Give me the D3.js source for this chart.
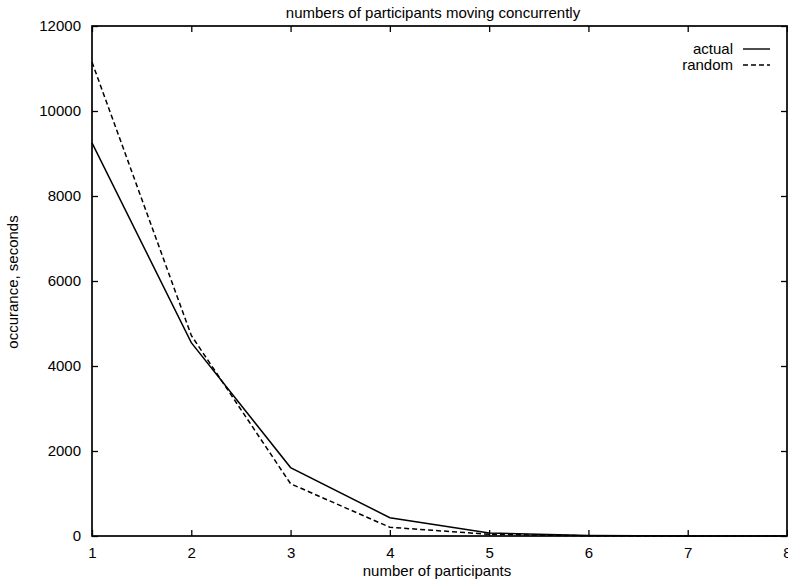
<!DOCTYPE html>
<html>
<head>
<meta charset="utf-8">
<script src="https://cdn.jsdelivr.net/npm/d3@7"></script>
<style>
body { margin: 0; background: #fff; }
text { font-family: "Liberation Sans", Arial, sans-serif; font-size: 15px; fill: #000; }
</style>
</head>
<body>
<script>
var participants = [1, 2, 3, 4, 5, 6, 7, 8];
var actual = [9250, 4550, 1610, 430, 70, 10, 0, 0];
var random = [11150, 4720, 1230, 205, 40, 5, 0, 0];
var yTicks = [0, 2000, 4000, 6000, 8000, 10000, 12000];
var seriesNames = ['actual', 'random'];

var W = 788, H = 579;
var pl = 92, pr = 787, pt = 26, pb = 536;

var svg = d3.select('body').append('svg')
	.attr('width', W)
	.attr('height', H);

var x = d3.scaleLinear().domain([1, 8]).range([pl, pr]);
var y = d3.scaleLinear().domain([0, 12000]).range([pb, pt]);

// frame
svg.append('rect')
	.attr('x', pl).attr('y', pt)
	.attr('width', pr - pl).attr('height', pb - pt)
	.attr('fill', 'none').attr('stroke', '#000').attr('stroke-width', 1.7);

// axes, gnuplot style: ticks inward on all sides
var tk = 6;
var ax = function(g) { g.select('.domain').remove(); g.selectAll('line').attr('stroke', '#000').attr('stroke-width', 1.3); };

svg.append('g').attr('transform', 'translate(0,' + pb + ')')
	.call(d3.axisBottom(x).tickValues(participants).tickFormat(d3.format('d')).tickSizeInner(-tk).tickPadding(11))
	.call(ax);
svg.append('g').attr('transform', 'translate(0,' + pt + ')')
	.call(d3.axisTop(x).tickValues(participants).tickFormat('').tickSizeInner(-tk))
	.call(ax);
svg.append('g').attr('transform', 'translate(' + pl + ',0)')
	.call(d3.axisLeft(y).tickValues(yTicks).tickFormat(d3.format('d')).tickSizeInner(-tk).tickPadding(11))
	.call(ax);
svg.append('g').attr('transform', 'translate(' + pr + ',0)')
	.call(d3.axisRight(y).tickValues(yTicks).tickFormat('').tickSizeInner(-tk))
	.call(ax);

svg.selectAll('.tick text').style('font-size', '15px').style('font-family', '"Liberation Sans", Arial, sans-serif');

// lines
var line = d3.line()
	.x(function(d, i) { return x(participants[i]); })
	.y(function(d) { return y(d); });

var dashes = ['none', '5,3'];
[actual, random].forEach(function(s, i) {
	svg.append('path')
		.attr('d', line(s))
		.attr('fill', 'none')
		.attr('stroke', '#000')
		.attr('stroke-width', 1.5)
		.attr('stroke-dasharray', dashes[i]);
});

// legend
seriesNames.forEach(function(n, i) {
	var ly = 49 + i * 16;
	svg.append('text').attr('x', 733).attr('y', ly + 5).attr('text-anchor', 'end').text(n);
	svg.append('line')
		.attr('x1', 743).attr('x2', 770).attr('y1', ly).attr('y2', ly)
		.attr('stroke', '#000').attr('stroke-width', 1.4)
		.attr('stroke-dasharray', dashes[i]);
});

// titles
svg.append('text').attr('x', 433).attr('y', 18).attr('text-anchor', 'middle')
	.text('numbers of participants moving concurrently');
svg.append('text').attr('x', 437).attr('y', 576).attr('text-anchor', 'middle')
	.text('number of participants');
svg.append('text')
	.attr('transform', 'translate(18,' + 282 + ') rotate(-90)')
	.attr('text-anchor', 'middle')
	.text('occurance, seconds');
</script>
</body>
</html>
